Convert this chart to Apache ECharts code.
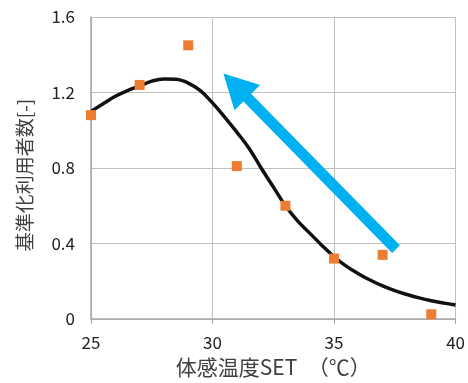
<!DOCTYPE html>
<html><head><meta charset="utf-8">
<script src="https://cdn.jsdelivr.net/npm/echarts@6/dist/echarts.min.js"></script>
<style>html,body{margin:0;padding:0;background:#fff}#c{width:468px;height:383px}</style>
</head><body><div id="c"></div>
<script>
const obsX = [25, 27, 29, 31, 33, 35, 37, 39];
const obsY = [1.08, 1.24, 1.45, 0.81, 0.60, 0.32, 0.34, 0.025];
const curveX = [25,25.5,26,26.5,27,27.5,28,28.5,29,29.5,30,30.5,31,31.5,32,32.5,33,33.5,34,34.5,35,35.5,36,36.5,37,37.5,38,38.5,39,39.5,40];
const curveY = [1.10,1.14,1.18,1.21,1.235,1.26,1.272,1.27,1.25,1.21,1.145,1.07,0.99,0.905,0.80,0.70,0.60,0.52,0.455,0.39,0.33,0.28,0.24,0.205,0.175,0.15,0.13,0.112,0.097,0.085,0.074];
const arrowFrom = [37.55, 0.37];
const arrowTo = [30.94, 1.237];
const xTicks = [25, 30, 35, 40];
const yTicks = [0, 0.4, 0.8, 1.2, 1.6];

const font = '"Noto Sans CJK JP", "Noto Sans", sans-serif';
const chart = echarts.init(document.getElementById('c'));
chart.setOption({
  animation: false,
  grid: {left: 91, right: 12, top: 17, bottom: 63},
  xAxis: {
    type: 'value', min: 25, max: 40, interval: 5,
    name: '体感温度SET　（℃）', nameLocation: 'middle', nameGap: 38,
    nameTextStyle: {fontFamily: font, fontSize: 21, color: '#404040'},
    axisLine: {lineStyle: {color: '#a6a6a6', width: 1.5}},
    axisTick: {show: true, length: 5, lineStyle: {color: '#a6a6a6'}},
    axisLabel: {fontFamily: font, fontSize: 17, color: '#222', margin: 15},
    splitLine: {show: true, lineStyle: {color: '#c0c0c0', width: 1}}
  },
  yAxis: {
    type: 'value', min: 0, max: 1.6, interval: 0.4,
    name: '基準化利用者数[-]', nameLocation: 'middle', nameGap: 57, nameRotate: 90,
    nameTextStyle: {fontFamily: font, fontSize: 19, color: '#404040', padding: [0, 14, 0, 0]},
    axisLine: {show: true, lineStyle: {color: '#a6a6a6', width: 1.5}},
    axisTick: {show: false},
    axisLabel: {fontFamily: font, fontSize: 17, color: '#222', margin: 16,
      formatter: v => (v === 0 ? '0' : v.toFixed(1))},
    splitLine: {show: true, lineStyle: {color: '#c0c0c0', width: 1}}
  },
  series: [
    {
      type: 'line', data: curveX.map((x, i) => [x, curveY[i]]),
      smooth: 0.4, showSymbol: false,
      lineStyle: {color: '#111', width: 3.5}, z: 2
    },
    {
      type: 'scatter', data: obsX.map((x, i) => [x, obsY[i]]),
      symbol: 'rect', symbolSize: 10,
      itemStyle: {color: '#ed7d31', opacity: 1}, z: 3,
      markLine: {
        silent: true, animation: false,
        symbol: ['none', 'triangle'], symbolSize: [36, 34],
        label: {show: false},
        lineStyle: {color: '#00b0f0', width: 11, type: 'solid', opacity: 1},
        data: [[{coord: arrowFrom}, {coord: arrowTo}]]
      }
    }
  ]
});
</script></body></html>
